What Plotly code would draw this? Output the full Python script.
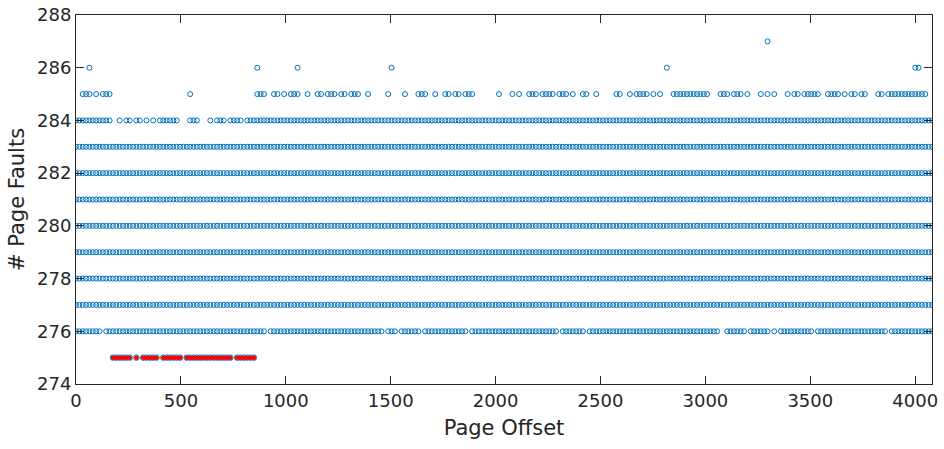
import plotly.graph_objects as go

# Page offsets are sampled every 16 bytes, 0 .. 4080
offset_step = 16
offset_max = 4080

# Fault levels where a sample exists at every offset
full_levels = [277, 278, 279, 280, 281, 282, 283]

# Partial levels: runs of offsets (start, end) where samples exist
runs_284 = [(0, 160), (208, 208), (240, 256), (288, 304), (336, 336), (368, 368),
            (400, 480), (544, 576), (640, 640), (672, 704), (736, 784), (816, 4080)]
runs_276 = [(0, 112), (144, 896), (928, 1456), (1488, 1520), (1552, 1632),
            (1664, 1856), (1888, 2288), (2320, 2416), (2448, 3056), (3104, 3184),
            (3216, 3296), (3328, 3328), (3360, 3504), (3536, 3856), (3888, 4080)]
runs_285 = [(32, 64), (96, 96), (128, 160), (544, 544), (864, 896), (944, 960),
            (992, 992), (1024, 1056), (1104, 1104), (1152, 1168), (1200, 1232),
            (1264, 1280), (1312, 1344), (1392, 1392), (1488, 1488), (1568, 1568),
            (1632, 1664), (1712, 1712), (1760, 1776), (1808, 1824), (1856, 1856),
            (1872, 1888), (2016, 2016), (2080, 2080), (2112, 2112), (2160, 2192),
            (2224, 2272), (2304, 2336), (2368, 2368), (2416, 2432), (2480, 2480),
            (2576, 2592), (2640, 2640), (2672, 2720), (2752, 2752), (2784, 2784),
            (2848, 3008), (3072, 3104), (3136, 3168), (3200, 3200), (3264, 3264),
            (3296, 3296), (3328, 3328), (3392, 3392), (3424, 3440), (3472, 3536),
            (3584, 3632), (3664, 3664), (3696, 3712), (3744, 3760), (3824, 3840),
            (3872, 4048)]
offsets_286 = [64, 864, 1056, 1504, 2816, 4000, 4016]
offsets_287 = [3296]

# Highlighted (red) samples at 275 faults
runs_275 = [(176, 256), (288, 288), (320, 384), (416, 496), (528, 736), (768, 848)]

x_ticks = [0, 500, 1000, 1500, 2000, 2500, 3000, 3500, 4000]
y_ticks = [274, 276, 278, 280, 282, 284, 286, 288]


def expand(runs):
    out = []
    for a, b in runs:
        out.extend(range(a, b + 1, offset_step))
    return out


xs, ys = [], []
for lvl in full_levels:
    o = list(range(0, offset_max + 1, offset_step))
    xs += o
    ys += [lvl] * len(o)
for lvl, runs in [(284, runs_284), (276, runs_276), (285, runs_285)]:
    o = expand(runs)
    xs += o
    ys += [lvl] * len(o)
for lvl, o in [(286, offsets_286), (287, offsets_287)]:
    xs += o
    ys += [lvl] * len(o)

red_x = expand(runs_275)
red_y = [275] * len(red_x)

blue = "#0072BD"
fig = go.Figure()
fig.add_trace(go.Scatter(x=xs, y=ys, mode="markers",
                         marker=dict(symbol="circle-open", size=5, color=blue,
                                     line=dict(width=1, color=blue)),
                         showlegend=False, hoverinfo="skip"))
fig.add_trace(go.Scatter(x=red_x, y=red_y, mode="markers",
                         marker=dict(symbol="circle-open", size=5.5, color=blue,
                                     line=dict(width=1, color=blue)),
                         showlegend=False, hoverinfo="skip"))
fig.add_trace(go.Scatter(x=red_x, y=red_y, mode="markers",
                         marker=dict(symbol="circle", size=4.5, color="#FF0000",
                                     line=dict(width=0)),
                         showlegend=False, hoverinfo="skip"))

axis_color = "#262626"
fig.update_layout(
    width=944, height=449,
    margin=dict(l=76, r=12, t=15, b=65),
    paper_bgcolor="white", plot_bgcolor="white",
    font=dict(family="DejaVu Sans", size=18, color=axis_color),
    xaxis=dict(range=[0, offset_max], tickvals=x_ticks, ticks="inside", ticklen=8,
               tickcolor=axis_color, showline=True, linecolor=axis_color, linewidth=1,
               mirror="ticks", showgrid=False, zeroline=False, automargin=False,
               title=dict(text="Page Offset", font=dict(size=21), standoff=10),
               tickfont=dict(size=18)),
    yaxis=dict(range=[274, 288], tickvals=y_ticks, ticks="inside", ticklen=8,
               tickcolor=axis_color, showline=True, linecolor=axis_color, linewidth=1,
               mirror="ticks", showgrid=False, zeroline=False, automargin=False,
               title=dict(text="# Page Faults", font=dict(size=21), standoff=6),
               tickfont=dict(size=18)),
)

fig.write_html("out.html")
